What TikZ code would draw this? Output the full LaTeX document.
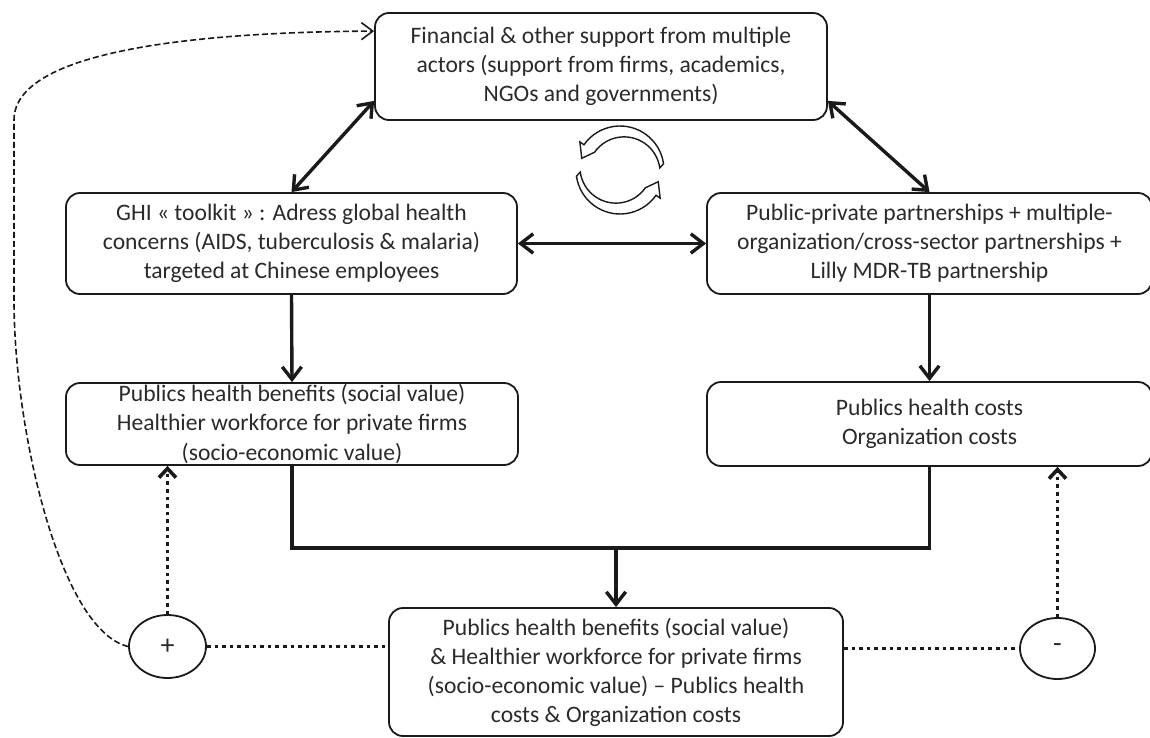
\documentclass[tikz,border=0pt]{standalone}
\usepackage{fontspec}
\setmainfont{Carlito}
\usepackage{xcolor}
\definecolor{cLine}{HTML}{1A1A1A}
\definecolor{cText}{HTML}{2A2A2A}
\usepackage{tikz}
\usetikzlibrary{arrows.meta,shapes.geometric}
\tikzset{
  node-box/.style={draw=cLine,line width=0.9pt,rounded corners=7pt,
    inner sep=0pt,align=center,text=cText,font=\fontsize{11.8}{14.5}\selectfont},
  node-sign/.style={draw=cLine,line width=0.9pt,ellipse,inner sep=0pt,
    text=cText,font=\fontsize{14}{16}\selectfont},
  arrow/.style={-{Straight Barb[length=2.2mm,width=3.4mm]},line width=1.7pt,draw=cLine},
  arrow-both/.style={arrow,{Straight Barb[length=2.2mm,width=3.4mm]}-{Straight Barb[length=2.2mm,width=3.4mm]}},
  join-line/.style={line width=1.7pt,draw=cLine},
  line-dot/.style={line width=1.8pt,dash pattern=on 1.8pt off 2pt,draw=cLine},
  arrow-dot/.style={line-dot,-{Straight Barb[length=1.6mm,width=3mm]}},
  arrow-dash/.style={-{Straight Barb[length=2mm,width=3mm]},line width=0.8pt,
    dash pattern=on 3pt off 1.5pt,draw=cLine},
  cycle-arrow/.style={draw=cLine,line width=0.7pt,fill=white},
}
\begin{document}
\begin{tikzpicture}[x=0.5pt,y=-0.5pt]
  \useasboundingbox (0,0) rectangle (1150,738);
  % boxes
  \node[node-box,minimum width=226pt,minimum height=53.5pt] (top) at (601,66.5)
    {Financial \& other support from multiple\\actors (support from firms, academics,\\NGOs and governments)};
  \node[node-box,minimum width=225.5pt,minimum height=50.5pt] (ghi) at (291.5,243.5)
    {GHI « toolkit » : Adress global health\\concerns (AIDS, tuberculosis \& malaria)\\targeted at Chinese employees};
  \node[node-box,minimum width=222.5pt,minimum height=50.5pt] (ppp) at (929.5,243.5)
    {Public-private partnerships + multiple-\\organization/cross-sector partnerships +\\Lilly MDR-TB partnership};
  \node[node-box,minimum width=226pt,minimum height=41pt] (benefit) at (292,424)
    {Publics health benefits (social value)\\Healthier workforce for private firms\\(socio-economic value)};
  \node[node-box,minimum width=222.5pt,minimum height=42pt] (costs) at (929.5,424)
    {Publics health costs\\Organization costs};
  \node[node-box,minimum width=227pt,minimum height=64pt] (result) at (616,672)
    {Publics health benefits (social value)\\\& Healthier workforce for private firms\\(socio-economic value) – Publics health\\costs \& Organization costs};
  \node[node-sign,minimum width=38.5pt,minimum height=31.5pt] (plus) at (167.5,646.5) {+};
  \node[node-sign,minimum width=37.5pt,minimum height=30.5pt] (minus) at (1057.5,648.5) {-};
  \coordinate (join) at (616,548);

  % solid links
  \draw[arrow-both] ([yshift=10pt]top.south west) -- (ghi.north);
  \draw[arrow-both] ([yshift=10pt]top.south east) -- (ppp.north);
  \draw[arrow-both] (ghi.east) -- (ppp.west);
  \draw[arrow] (ghi.south) -- (benefit.north);
  \draw[arrow] (ppp.south) -- (costs.north);
  \draw[join-line] (benefit.south) |- (join) -| (costs.south);
  \draw[arrow] (join) -- (result.north);

  % feedback
  \draw[arrow-dot] (plus.north) -- (plus.north |- benefit.south);
  \draw[arrow-dot] (minus.north) -- (minus.north |- costs.south);
  \draw[line-dot] (plus.east) -- (plus.east -| result.west);
  \draw[line-dot] (result.east |- minus.west) -- (minus.west);
  \draw[arrow-dash] (plus.west) .. controls (60,630) and (14,430) .. (14,300)
    -- (14,120) .. controls (14,50) and (200,32) .. ([yshift=-9.5pt]top.north west);

  % cycle
  \begin{scope}[shift={(620,170)},yscale=-1]
    \draw[cycle-arrow] (8:44) arc[start angle=8,end angle=145,radius=44]
      -- (145:49) -- (163:40) -- (145:31) arc[start angle=145,end angle=8,radius=36] -- cycle;
    \draw[cycle-arrow] (188:44) arc[start angle=188,end angle=325,radius=44]
      -- (325:49) -- (343:40) -- (325:31) arc[start angle=325,end angle=188,radius=36] -- cycle;
  \end{scope}
\end{tikzpicture}
\end{document}
